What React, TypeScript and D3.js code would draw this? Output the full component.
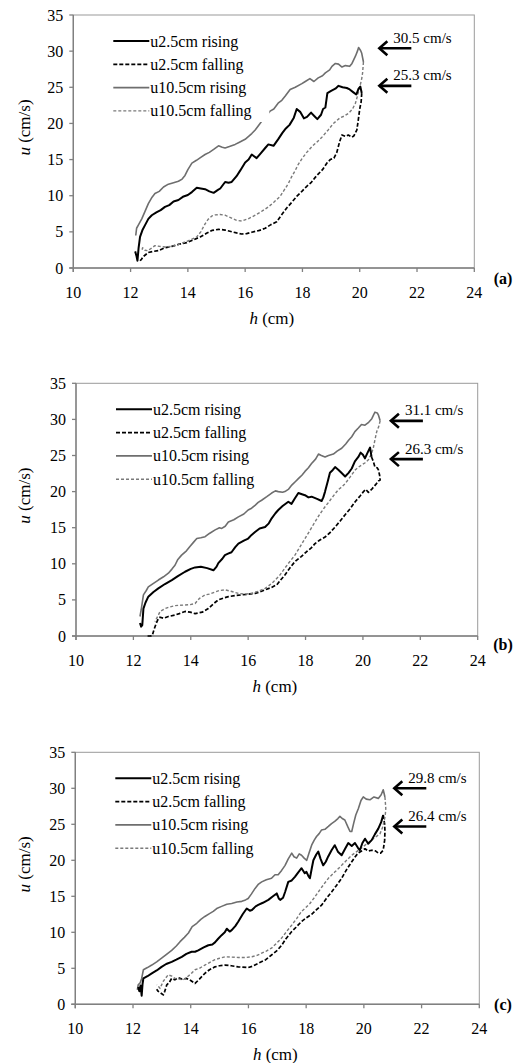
import * as d3 from 'd3';

// h (cm), u (cm/s) pairs
const aRise25 = [[12.16,2.3],[12.21,1.6],[12.24,1.0],[12.28,2.8],[12.33,4.3],[12.42,5.3],[12.5,5.9],[12.62,6.8],[12.74,7.3],[12.9,7.7],[13.05,8.0],[13.2,8.45],[13.35,8.7],[13.5,9.2],[13.67,9.4],[13.85,9.9],[14.0,10.1],[14.14,10.5],[14.31,11.1],[14.45,11.0],[14.6,10.9],[14.75,10.6],[14.9,10.4],[15.05,10.8],[15.13,11.0],[15.3,11.9],[15.42,11.8],[15.53,11.9],[15.7,12.7],[15.83,13.5],[16.0,14.6],[16.12,15.0],[16.23,15.7],[16.4,15.2],[16.55,15.9],[16.7,16.6],[16.81,17.1],[16.99,16.9],[17.15,17.8],[17.3,18.7],[17.42,19.3],[17.55,19.8],[17.7,20.8],[17.8,22.0],[17.92,21.6],[18.05,20.7],[18.16,20.9],[18.3,21.5],[18.42,21.0],[18.52,20.6],[18.65,21.2],[18.72,22.0],[18.8,22.2],[18.87,24.2],[19.0,24.5],[19.15,24.8],[19.26,25.2],[19.4,25.0],[19.55,24.9],[19.65,24.7],[19.78,24.3],[19.88,24.0],[19.96,24.8],[20.02,25.1],[20.07,24.2]];
const aFall25 = [[20.07,24.2],[20.05,23.0],[20.0,22.0],[19.95,20.5],[19.9,19.1],[19.8,18.3],[19.73,18.1],[19.6,18.4],[19.5,18.2],[19.38,18.4],[19.3,17.5],[19.2,16.0],[19.1,15.2],[18.97,15.0],[18.85,14.5],[18.7,13.6],[18.55,13.0],[18.44,12.5],[18.3,11.8],[18.15,11.3],[17.98,10.6],[17.8,9.9],[17.63,9.1],[17.45,8.3],[17.28,7.4],[17.1,6.4],[16.9,6.0],[16.7,5.5],[16.5,5.2],[16.23,4.95],[16.05,4.75],[15.88,4.7],[15.7,4.85],[15.5,5.05],[15.3,5.25],[15.07,5.35],[14.84,5.2],[14.65,4.8],[14.43,4.3],[14.2,3.9],[13.96,3.5],[13.7,3.3],[13.44,3.0],[13.2,2.8],[12.97,2.4],[12.8,2.3],[12.62,2.15],[12.45,1.6],[12.38,1.2],[12.33,1.0]];
const aRise105 = [[12.18,4.5],[12.21,5.5],[12.28,6.0],[12.39,6.8],[12.5,7.8],[12.62,8.9],[12.75,9.8],[12.85,10.3],[13.0,10.6],[13.15,11.2],[13.32,11.6],[13.5,11.8],[13.67,12.0],[13.8,12.3],[13.9,12.8],[14.0,13.6],[14.14,14.5],[14.3,14.9],[14.45,15.3],[14.6,15.7],[14.75,16.0],[14.9,16.4],[15.07,16.9],[15.2,16.7],[15.3,16.6],[15.45,16.8],[15.65,17.1],[15.8,17.4],[16.0,17.8],[16.12,18.2],[16.23,18.6],[16.35,19.1],[16.52,20.0],[16.65,20.7],[16.87,21.7],[17.0,22.0],[17.15,22.8],[17.28,23.2],[17.4,23.8],[17.57,24.7],[17.75,25.0],[17.98,25.5],[18.1,25.8],[18.26,26.2],[18.4,25.8],[18.55,26.3],[18.7,26.6],[18.8,27.0],[18.95,27.4],[19.03,27.9],[19.15,28.3],[19.26,28.2],[19.38,27.8],[19.5,28.0],[19.65,27.9],[19.73,28.3],[19.85,29.3],[19.92,30.0],[19.96,30.5],[20.03,30.1],[20.07,29.7],[20.13,28.5]];
const aFall105 = [[20.13,28.5],[20.1,27.0],[20.07,26.2],[20.0,25.0],[19.96,24.4],[19.9,23.5],[19.85,22.8],[19.75,22.0],[19.61,21.4],[19.45,21.0],[19.32,20.8],[19.2,20.4],[19.08,20.0],[18.9,19.1],[18.68,18.1],[18.5,17.4],[18.33,16.8],[18.15,16.0],[17.98,15.1],[17.85,14.3],[17.75,13.5],[17.62,12.6],[17.51,11.7],[17.35,10.7],[17.22,9.9],[17.0,9.1],[16.81,8.45],[16.6,7.9],[16.35,7.3],[16.1,6.8],[15.88,6.5],[15.7,6.6],[15.53,6.9],[15.3,7.3],[15.13,7.4],[14.95,7.35],[14.84,7.2],[14.7,6.7],[14.6,6.1],[14.45,5.0],[14.31,4.3],[14.1,3.9],[13.9,3.6],[13.65,3.2],[13.44,3.0],[13.2,2.9],[13.0,3.0],[12.85,3.1],[12.75,2.8],[12.6,2.4],[12.5,2.45],[12.42,2.8],[12.4,2.5]];

const bRise25 = [[12.23,1.8],[12.27,1.3],[12.31,1.5],[12.35,3.8],[12.42,4.6],[12.52,5.45],[12.7,6.1],[12.87,6.6],[13.1,7.2],[13.34,7.75],[13.55,8.3],[13.8,8.9],[14.0,9.3],[14.15,9.5],[14.35,9.6],[14.57,9.4],[14.79,9.1],[14.9,9.6],[14.96,10.1],[15.1,10.7],[15.19,11.2],[15.3,11.4],[15.42,11.6],[15.55,12.3],[15.66,12.8],[15.85,13.2],[16.0,13.5],[16.12,14.0],[16.24,14.4],[16.4,14.9],[16.59,15.1],[16.72,15.6],[16.82,16.3],[16.95,17.0],[17.05,17.45],[17.2,18.0],[17.4,18.6],[17.51,18.3],[17.62,19.0],[17.75,19.8],[17.9,19.6],[17.98,19.5],[18.1,19.2],[18.21,19.3],[18.4,19.0],[18.56,18.7],[18.62,19.2],[18.68,20.0],[18.78,21.5],[18.85,22.6],[18.95,23.0],[19.03,23.4],[19.15,23.0],[19.25,22.6],[19.38,22.1],[19.5,22.6],[19.61,23.2],[19.72,24.2],[19.84,24.8],[19.92,25.4],[20.0,25.1],[20.07,24.6],[20.15,25.3],[20.25,26.1],[20.3,24.8]];
const bFall25 = [[20.3,24.8],[20.36,24.2],[20.42,23.4],[20.5,23.3],[20.54,23.0],[20.58,22.3],[20.6,21.6],[20.55,21.5],[20.45,21.0],[20.3,20.3],[20.19,19.9],[20.1,20.3],[20.02,20.0],[19.9,19.4],[19.73,18.6],[19.55,17.6],[19.38,16.8],[19.2,15.9],[19.03,15.1],[18.85,14.3],[18.68,13.7],[18.5,13.3],[18.33,12.8],[18.2,12.2],[18.04,11.7],[17.85,11.0],[17.63,10.3],[17.45,9.4],[17.28,8.45],[17.12,7.7],[17.0,7.1],[16.8,6.7],[16.59,6.4],[16.4,6.1],[16.24,5.9],[16.0,5.8],[15.78,5.7],[15.55,5.6],[15.31,5.45],[15.1,5.2],[14.96,5.0],[14.8,4.5],[14.61,3.8],[14.4,3.3],[14.15,3.1],[13.98,3.3],[13.8,3.4],[13.6,3.1],[13.45,2.9],[13.22,2.7],[13.05,2.45],[12.93,2.6],[12.87,2.4],[12.8,1.8],[12.72,0.9],[12.66,0.1],[12.6,0],[12.45,0]];
const bRise105 = [[12.23,2.7],[12.27,3.6],[12.35,5.7],[12.45,6.3],[12.52,6.8],[12.7,7.3],[12.87,7.75],[13.05,8.2],[13.22,8.7],[13.35,9.3],[13.45,9.8],[13.55,10.6],[13.68,11.2],[13.85,11.8],[13.97,12.4],[14.1,13.0],[14.21,13.5],[14.35,13.6],[14.5,13.75],[14.65,14.2],[14.85,14.7],[15.0,15.0],[15.08,14.9],[15.2,15.2],[15.31,15.8],[15.5,16.1],[15.66,16.5],[15.85,16.9],[16.0,17.45],[16.12,17.7],[16.24,18.1],[16.35,18.5],[16.47,18.8],[16.65,19.3],[16.82,19.8],[16.95,20.1],[17.05,20.0],[17.2,19.9],[17.28,20.0],[17.4,20.3],[17.52,20.9],[17.65,21.4],[17.75,21.8],[17.88,22.3],[17.98,22.8],[18.1,23.3],[18.21,23.9],[18.35,24.5],[18.45,25.2],[18.55,25.0],[18.68,24.8],[18.8,25.0],[18.97,25.2],[19.1,25.6],[19.26,26.0],[19.4,26.6],[19.5,27.1],[19.61,27.6],[19.72,28.3],[19.84,28.8],[19.95,29.3],[20.07,29.2],[20.2,29.6],[20.31,30.1],[20.38,30.7],[20.42,31.0],[20.5,30.9],[20.54,30.6],[20.6,29.8]];
const bFall105 = [[20.6,29.8],[20.55,29.0],[20.48,28.3],[20.42,27.2],[20.36,26.0],[20.28,25.1],[20.19,24.4],[20.08,24.0],[19.96,23.7],[19.85,23.4],[19.73,23.0],[19.55,22.0],[19.38,21.1],[19.25,20.6],[19.15,20.3],[19.03,19.7],[18.91,19.1],[18.8,18.5],[18.68,17.9],[18.5,16.9],[18.33,15.8],[18.15,14.6],[17.98,13.5],[17.8,12.3],[17.63,11.2],[17.45,10.3],[17.28,9.4],[17.1,8.4],[16.88,7.5],[16.7,6.9],[16.59,6.6],[16.35,6.2],[16.12,5.9],[15.9,5.8],[15.66,5.9],[15.4,6.2],[15.19,6.4],[15.0,6.3],[14.85,6.1],[14.65,5.8],[14.5,5.7],[14.3,5.2],[14.15,4.5],[13.98,4.35],[13.8,4.3],[13.6,4.25],[13.45,4.2],[13.25,4.0],[13.1,3.8],[12.93,3.4],[12.87,2.9],[12.81,2.45],[12.75,2.0]];

const cRise25 = [[12.18,2.4],[12.22,1.8],[12.26,2.6],[12.3,1.2],[12.33,2.8],[12.36,3.6],[12.5,3.9],[12.65,4.3],[12.82,4.7],[12.99,5.2],[13.15,5.6],[13.34,5.9],[13.5,6.2],[13.69,6.6],[13.85,7.0],[14.03,7.3],[14.15,7.3],[14.26,7.5],[14.45,7.9],[14.61,8.2],[14.75,8.3],[14.84,8.6],[14.95,9.1],[15.07,9.6],[15.18,10.0],[15.25,10.5],[15.35,10.1],[15.42,10.3],[15.55,10.9],[15.65,11.5],[15.8,12.5],[15.94,13.3],[16.05,13.0],[16.12,13.1],[16.25,13.6],[16.34,13.8],[16.5,14.1],[16.69,14.5],[16.85,15.0],[16.98,15.4],[17.05,14.7],[17.1,14.5],[17.2,14.8],[17.27,15.6],[17.38,17.0],[17.5,17.2],[17.61,17.7],[17.72,18.3],[17.84,18.9],[17.95,18.2],[18.01,18.4],[18.08,17.8],[18.13,17.5],[18.2,19.0],[18.25,20.0],[18.35,20.8],[18.42,21.2],[18.5,20.2],[18.59,19.3],[18.68,19.8],[18.76,20.5],[18.88,21.4],[18.99,22.1],[19.1,21.2],[19.23,20.7],[19.35,21.6],[19.46,22.4],[19.58,22.0],[19.69,22.4],[19.8,21.7],[19.86,21.4],[19.95,22.4],[20.04,23.0],[20.15,22.3],[20.27,22.8],[20.38,23.6],[20.5,24.4],[20.6,25.3],[20.67,26.3]];
const cFall25 = [[20.67,26.3],[20.72,25.0],[20.73,24.0],[20.72,22.8],[20.67,21.4],[20.58,21.0],[20.5,21.0],[20.4,21.3],[20.27,21.4],[20.15,21.3],[20.04,21.6],[19.92,21.3],[19.8,21.0],[19.7,20.5],[19.58,19.8],[19.4,18.7],[19.23,17.5],[19.05,16.5],[18.88,15.6],[18.7,14.7],[18.54,13.8],[18.35,13.1],[18.19,12.5],[18.0,12.0],[17.84,11.5],[17.65,10.7],[17.5,10.1],[17.3,9.1],[17.15,8.2],[17.0,7.5],[16.8,6.85],[16.6,6.2],[16.34,5.7],[16.15,5.3],[15.99,5.1],[15.8,5.15],[15.65,5.2],[15.4,5.35],[15.19,5.45],[15.0,5.35],[14.84,5.2],[14.65,4.8],[14.49,4.3],[14.3,3.5],[14.15,2.9],[14.0,3.3],[13.86,3.6],[13.7,3.5],[13.57,3.7],[13.45,3.4],[13.34,3.6],[13.25,3.0],[13.17,2.7],[13.1,1.8],[13.05,1.3],[12.95,1.6],[12.87,1.8],[12.82,2.1]];
const cRise105 = [[12.15,2.0],[12.18,2.7],[12.25,3.0],[12.3,3.6],[12.36,4.8],[12.5,5.1],[12.65,5.45],[12.82,5.9],[12.99,6.4],[13.15,6.9],[13.34,7.5],[13.5,8.1],[13.63,8.7],[13.78,9.3],[13.92,9.9],[14.05,10.8],[14.21,11.25],[14.35,11.8],[14.49,12.2],[14.65,12.6],[14.78,12.9],[14.9,13.3],[15.07,13.6],[15.25,13.9],[15.42,14.0],[15.6,14.2],[15.77,14.3],[15.9,14.5],[15.99,14.7],[16.1,15.3],[16.23,16.1],[16.35,16.7],[16.46,17.0],[16.62,17.3],[16.8,17.5],[16.92,18.0],[17.03,18.0],[17.15,18.6],[17.27,19.3],[17.38,20.2],[17.5,21.0],[17.58,20.5],[17.67,20.3],[17.76,20.9],[17.84,20.7],[17.93,20.3],[18.02,20.0],[18.1,21.0],[18.19,22.1],[18.28,22.8],[18.36,23.3],[18.45,23.7],[18.53,24.2],[18.65,24.3],[18.77,24.7],[18.88,25.1],[18.99,25.4],[19.1,25.8],[19.17,26.1],[19.25,25.8],[19.34,25.6],[19.45,24.6],[19.52,24.0],[19.58,24.0],[19.65,25.2],[19.72,26.3],[19.81,27.2],[19.9,28.3],[19.98,28.8],[20.08,28.5],[20.21,28.4],[20.35,28.8],[20.5,28.6],[20.6,29.1],[20.67,29.8],[20.73,28.8]];
const cFall105 = [[20.73,28.8],[20.76,27.2],[20.74,26.2],[20.7,25.4],[20.64,24.5],[20.56,23.7],[20.4,23.2],[20.27,22.8],[20.1,22.3],[19.92,21.7],[19.75,21.2],[19.58,20.7],[19.4,20.0],[19.23,19.3],[19.0,18.4],[18.77,17.5],[18.6,16.6],[18.42,15.6],[18.28,14.8],[18.13,14.0],[17.98,13.4],[17.84,12.9],[17.67,11.9],[17.5,11.0],[17.32,10.1],[17.15,9.2],[16.98,8.5],[16.8,7.8],[16.62,7.4],[16.46,7.1],[16.3,6.8],[16.12,6.6],[15.9,6.5],[15.65,6.5],[15.4,6.55],[15.19,6.6],[15.0,6.4],[14.84,6.2],[14.65,5.8],[14.49,5.45],[14.3,5.0],[14.15,4.8],[14.05,4.4],[13.97,4.1],[13.85,3.7],[13.74,3.4],[13.6,3.5],[13.46,3.6],[13.35,3.9],[13.22,4.1],[13.12,3.6],[13.05,3.2],[12.98,2.6],[12.94,2.2],[12.88,2.5],[12.82,2.7]];

const legendLabels = ['u2.5cm rising', 'u2.5cm falling', 'u10.5cm rising', 'u10.5cm falling'];
const xTicks = [10, 12, 14, 16, 18, 20, 22, 24];
const yTicks = [0, 5, 10, 15, 20, 25, 30, 35];

// annotation arrows: [label, u at arrow, h at arrow tip]
const aNotes = [['30.5 cm/s', 30.4, 20.65], ['25.3 cm/s', 25.2, 20.65]];
const bNotes = [['31.1 cm/s', 29.8, 20.94], ['26.3 cm/s', 24.5, 20.94]];
const cNotes = [['29.8 cm/s', 30.0, 21.02], ['26.4 cm/s', 24.7, 21.02]];

const styles = [
  { stroke: '#000', width: 2, dash: null },
  { stroke: '#000', width: 1.7, dash: '4,2' },
  { stroke: '#6e6e6e', width: 1.6, dash: null },
  { stroke: '#7a7a7a', width: 1.4, dash: '3,2' },
];

const FONT = "'Liberation Serif', 'Times New Roman', Times, 'DejaVu Serif', serif";

const panels = [
  { id: 'a', left: 73.3, top: 15, width: 401, height: 253, series: [aRise25, aFall25, aRise105, aFall105], notes: aNotes, tagDy: 16 },
  { id: 'b', left: 76, top: 383.3, width: 401.7, height: 252.7, series: [bRise25, bFall25, bRise105, bFall105], notes: bNotes, tagDy: 14 },
  { id: 'c', left: 75.3, top: 752.3, width: 404, height: 252, series: [cRise25, cFall25, cRise105, cFall105], notes: cNotes, tagDy: 6 },
];

const drawOrder = [1, 3, 2, 0];

const Panel = ({ p }) => {
  const x = d3.scaleLinear().domain([10, 24]).range([p.left, p.left + p.width]);
  const y = d3.scaleLinear().domain([0, 35]).range([p.top + p.height, p.top]);
  const line = d3.line().x((d) => x(d[0])).y((d) => y(d[1]));
  const bottom = p.top + p.height;
  const right = p.left + p.width;

  return (
    <g>
      <rect x={p.left} y={p.top} width={p.width} height={p.height} fill='none' stroke='#9a9a9a' strokeWidth={1} />
      <line x1={p.left} x2={p.left} y1={p.top} y2={bottom + 4} stroke='#808080' strokeWidth={1.4} />
      <line x1={p.left - 4} x2={right} y1={bottom} y2={bottom} stroke='#808080' strokeWidth={1.4} />
      {yTicks.map((t) => (
        <g key={'y' + t}>
          <line x1={p.left - 4} x2={p.left} y1={y(t)} y2={y(t)} stroke='#808080' strokeWidth={1.3} />
          <text x={p.left - 10} y={y(t) + 5.5} textAnchor='end' fontSize={16}>{t}</text>
        </g>
      ))}
      {xTicks.map((t) => (
        <g key={'x' + t}>
          <line x1={x(t)} x2={x(t)} y1={bottom} y2={bottom + 4} stroke='#808080' strokeWidth={1.3} />
          <text x={x(t)} y={bottom + 30} textAnchor='middle' fontSize={16}>{t}</text>
        </g>
      ))}

      {drawOrder.map((i) => (
        <path key={'s' + i} d={line(p.series[i])} fill='none' stroke={styles[i].stroke}
          strokeWidth={styles[i].width} strokeDasharray={styles[i].dash || undefined} strokeLinejoin='round' />
      ))}

      <rect x={p.left + 34} y={p.top + 12} width={162} height={95} fill='#fff' />
      {legendLabels.map((lab, i) => {
        const ly = p.top + 26 + i * 23.3;
        return (
          <g key={lab}>
            <line x1={p.left + 40} x2={p.left + 76} y1={ly} y2={ly} stroke={styles[i].stroke}
              strokeWidth={styles[i].width} strokeDasharray={styles[i].dash || undefined} />
            <text x={p.left + 77} y={ly + 5.5} fontSize={16}>{lab}</text>
          </g>
        );
      })}

      {p.notes.map(([lab, u, h]) => {
        const ty = y(u);
        const tx = x(h);
        return (
          <g key={lab}>
            <line x1={tx + 1} x2={tx + 33} y1={ty} y2={ty} stroke='#000' strokeWidth={2.6} />
            <path d={`M${tx + 9},${ty - 7} L${tx + 1},${ty} L${tx + 9},${ty + 7}`} fill='none' stroke='#000' strokeWidth={2.6} />
            <text x={tx + 15} y={ty - 5.5} fontSize={15}>{lab}</text>
          </g>
        );
      })}

      <text x={503} y={bottom + p.tagDy} textAnchor='middle' fontSize={16} fontWeight='bold'>({p.id})</text>
      <text x={(p.left + right) / 2 - 2} y={bottom + 56} textAnchor='middle' fontSize={17}>
        <tspan fontStyle='italic'>h</tspan> (cm)
      </text>
      <text transform={`translate(${24}, ${(p.top + bottom) / 2 - 14}) rotate(-90)`} dy='0.35em' textAnchor='middle' fontSize={17}>
        <tspan fontStyle='italic'>u</tspan> (cm/s)
      </text>
    </g>
  );
};

const App = () => (
  <svg width={516} height={1063} style={{ position: 'absolute', left: 0, top: 0, background: '#fff', fontFamily: FONT }}>
    <rect width={516} height={1063} fill='#fff' />
    {panels.map((p) => <Panel key={p.id} p={p} />)}
  </svg>
);

export default App;
